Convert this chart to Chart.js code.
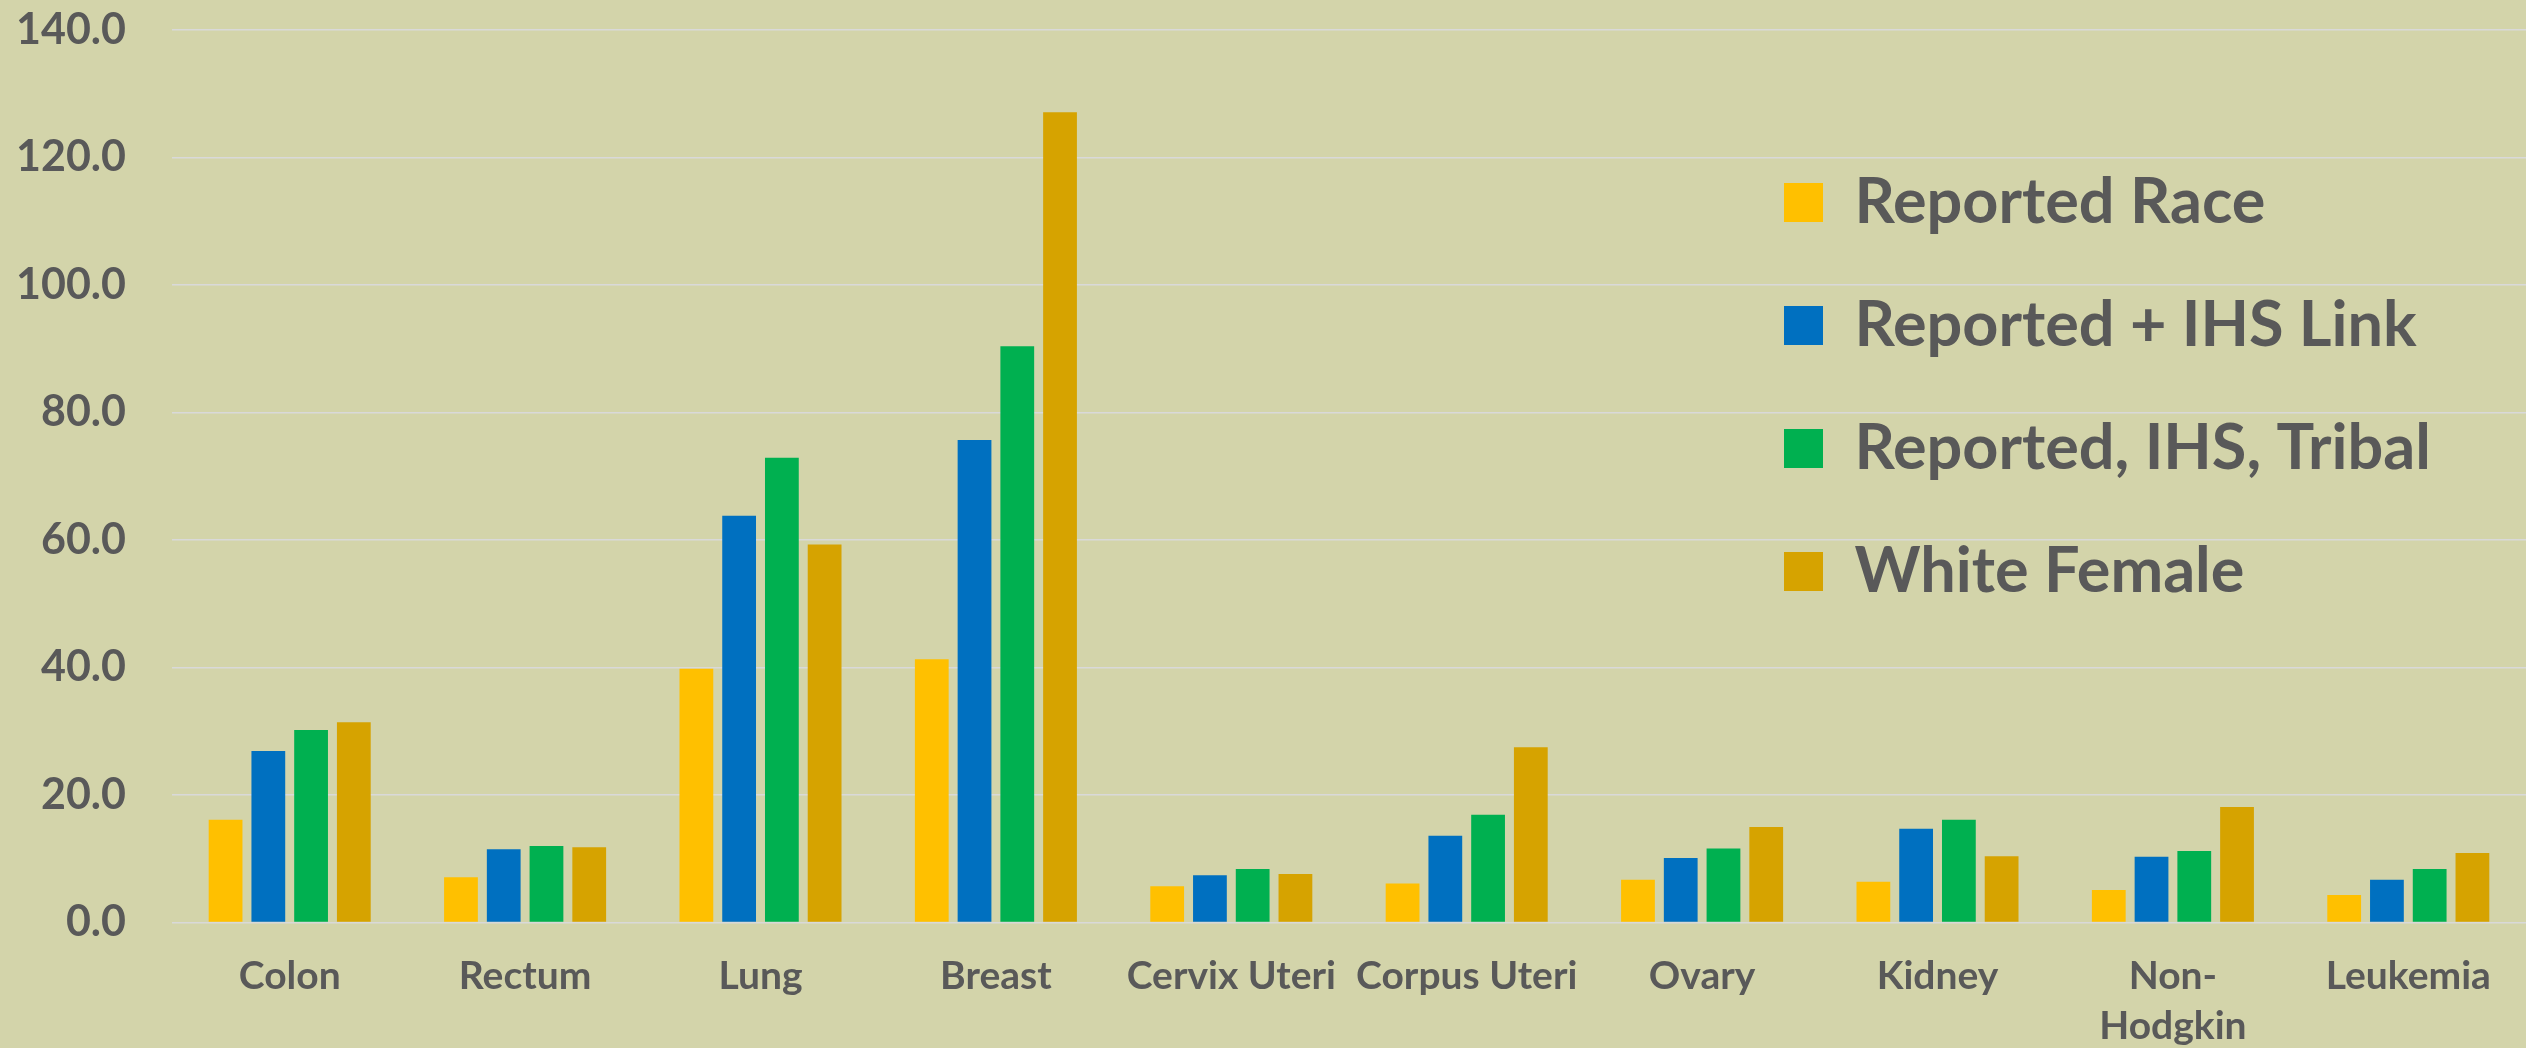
<!DOCTYPE html>
<html>
<head>
<meta charset="utf-8">
<script src="https://cdn.jsdelivr.net/npm/chart.js@4"></script>
<style>
  html, body { margin: 0; padding: 0; background: #d3d4aa; }
  canvas { display: block; }
</style>
</head>
<body>
<canvas id="c" width="2526" height="1048"></canvas>
<script>
const categories = ['Colon', 'Rectum', 'Lung', 'Breast', 'Cervix Uteri', 'Corpus Uteri', 'Ovary', 'Kidney', ['Non-', 'Hodgkin'], 'Leukemia'];
const seriesNames = ['Reported Race', 'Reported + IHS Link', 'Reported, IHS, Tribal', 'White Female'];
const reportedRace   = [16.1, 7.1, 39.8, 41.3, 5.7, 6.1, 6.7, 6.4, 5.1, 4.3];
const reportedIHS    = [26.9, 11.5, 63.8, 75.7, 7.4, 13.6, 10.1, 14.7, 10.3, 6.7];
const reportedTribal = [30.2, 12.0, 72.9, 90.4, 8.4, 16.9, 11.6, 16.1, 11.2, 8.4];
const whiteFemale    = [31.4, 11.8, 59.3, 127.1, 7.6, 27.5, 15.0, 10.4, 18.1, 10.9];
const yTicks = [0, 20, 40, 60, 80, 100, 120, 140];

const colors = ['#FFC000', '#0070C0', '#00B050', '#D6A300'];
const seriesValues = [reportedRace, reportedIHS, reportedTribal, whiteFemale];
const textColor = '#595959';
const fontFamily = 'Lato, "Open Sans", sans-serif';

const legendMover = {
  id: 'legendMover',
  afterLayout(chart) {
    const lg = chart.legend;
    if (!lg) return;
    lg.left = 1724; lg.top = 111;
    lg.right = 2526; lg.bottom = 1048;
    lg.width = lg.right - lg.left; lg.height = lg.bottom - lg.top;
  }
};

new Chart(document.getElementById('c'), {
  type: 'bar',
  data: {
    labels: categories,
    datasets: seriesValues.map((vals, i) => ({
      label: seriesNames[i],
      data: vals,
      backgroundColor: colors[i],
      borderWidth: 0,
      categoryPercentage: 0.7264,
      barPercentage: 0.79
    }))
  },
  options: {
    responsive: false,
    animation: false,
    devicePixelRatio: 1,
    layout: { padding: { top: 30, left: 0, right: 0, bottom: 0 } },
    plugins: {
      legend: {
        position: 'chartArea',
        fullSize: false,
        align: 'start',
        labels: {
          color: textColor,
          font: { family: fontFamily, size: 63, weight: 'bold' },
          boxWidth: 39,
          boxHeight: 39,
          padding: 60
        }
      },
      tooltip: { enabled: false }
    },
    scales: {
      x: {
        grid: { display: false, drawTicks: false },
        border: { display: false },
        ticks: {
          color: textColor,
          font: { family: fontFamily, size: 39, weight: 'bold', lineHeight: 1.28 },
          padding: 29,
          autoSkip: false,
          maxRotation: 0,
          minRotation: 0
        },
        afterFit(scale) { scale.height = 125.5; }
      },
      y: {
        min: 0,
        max: 140,
        afterBuildTicks(scale) { scale.ticks = yTicks.map(v => ({ value: v })); },
        grid: { color: '#d9d9d9', lineWidth: 1.5, drawTicks: false },
        border: { display: false },
        ticks: {
          color: textColor,
          font: { family: fontFamily, size: 43, weight: 'bold' },
          padding: 46,
          callback: (v) => Number(v).toFixed(1)
        },
        afterFit(scale) {
          scale.width = 172;
          scale.paddingTop = 0;
          scale.paddingBottom = 0;
        }
      }
    }
  },
  plugins: [legendMover]
});
</script>
</body>
</html>
